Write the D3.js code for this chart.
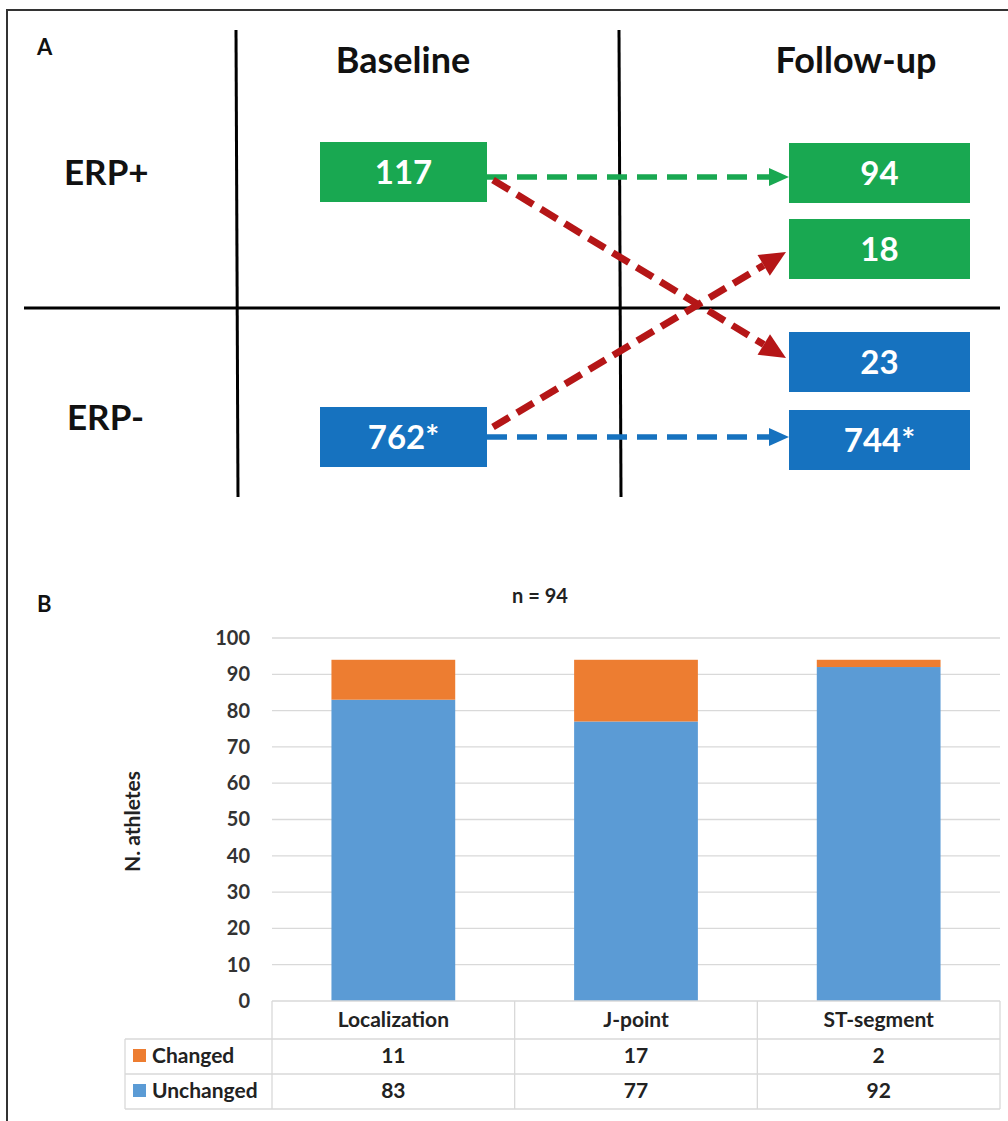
<!DOCTYPE html>
<html>
<head>
<meta charset="utf-8">
<script src="https://cdn.jsdelivr.net/npm/d3@7"></script>
<style>
  html, body { margin: 0; padding: 0; background: #fff; }
  svg { display: block; }
  text { font-family: Lato, "Open Sans", sans-serif; }
</style>
</head>
<body>
<script>
// ---- Panel A: ERP status at baseline and follow-up ----
const rowLabels = ["ERP+", "ERP-"];
const columnTitles = ["Baseline", "Follow-up"];
const baselineCounts = [117, 762];
const baselineLabels = ["117", "762*"];
const followUpCounts = [94, 18, 23, 744];
const followUpLabels = ["94", "18", "23", "744*"];
const followUpStatus = ["ERP+", "ERP+", "ERP-", "ERP-"];
const baselineStatus = ["ERP+", "ERP-"];
// transitions: from baseline box index to follow-up box index
const transitions = [
  { from: 0, to: 0, kind: "same" },
  { from: 0, to: 2, kind: "switch" },
  { from: 1, to: 1, kind: "switch" },
  { from: 1, to: 3, kind: "same" }
];

// ---- Panel B: ERP pattern changes among persistent ERP+ (n = 94) ----
const categories = ["Localization", "J-point", "ST-segment"];
const seriesNames = ["Unchanged", "Changed"];
const unchanged = [83, 77, 92];
const changed = [11, 17, 2];
const yTicks = [0, 10, 20, 30, 40, 50, 60, 70, 80, 90, 100];

const W = 1008, H = 1121;
const svg = d3.select("body").append("svg").attr("width", W).attr("height", H);

const GREEN = "#19a851", BLUE = "#1672bf", RED = "#b51617";
const statusColor = s => s === "ERP+" ? GREEN : BLUE;

// outer frame
svg.append("path")
  .attr("d", `M7,${H + 5} L7,10 L${W + 5},10`)
  .attr("fill", "none").attr("stroke", "#333").attr("stroke-width", 2);

// panel letters
svg.append("text").attr("x", 37).attr("y", 55).text("A")
  .attr("font-family", "'Liberation Sans', Arial, sans-serif")
  .attr("font-size", 22).attr("font-weight", 700).attr("fill", "#111");
svg.append("text").attr("x", 37).attr("y", 612).text("B")
  .attr("font-family", "'Liberation Sans', Arial, sans-serif")
  .attr("font-size", 22).attr("font-weight", 700).attr("fill", "#111");

// ---------- Panel A ----------
const gA = svg.append("g");
// grid of the diagram
gA.append("line").attr("x1", 236).attr("x2", 238).attr("y1", 30).attr("y2", 497)
  .attr("stroke", "#000").attr("stroke-width", 3);
gA.append("line").attr("x1", 619).attr("x2", 621).attr("y1", 30).attr("y2", 497)
  .attr("stroke", "#000").attr("stroke-width", 3);
gA.append("line").attr("x1", 24).attr("x2", 1000).attr("y1", 308).attr("y2", 308)
  .attr("stroke", "#000").attr("stroke-width", 3);

const colX = d3.scaleOrdinal().domain(columnTitles).range([403, 856]);
gA.selectAll("text.col").data(columnTitles).join("text")
  .attr("class", "col")
  .attr("x", d => colX(d)).attr("y", 73)
  .attr("text-anchor", "middle")
  .attr("font-size", 36).attr("font-weight", 700).attr("fill", "#111")
  .text(d => d);

const rowY = d3.scaleOrdinal().domain(rowLabels).range([185, 430]);
gA.selectAll("text.row").data(rowLabels).join("text")
  .attr("class", "row")
  .attr("x", d => d === "ERP+" ? 64 : 67).attr("y", d => rowY(d))
  .attr("font-size", 35).attr("font-weight", 700).attr("fill", "#111")
  .text(d => d);

// boxes
const baseBoxY = d3.scaleOrdinal().domain([0, 1]).range([142, 407]);
const followBoxY = d3.scaleOrdinal().domain([0, 1, 2, 3]).range([143, 219, 332, 410]);
const boxH = 60;
const baseBoxes = baselineCounts.map((v, i) => ({
  value: v, label: baselineLabels[i], status: baselineStatus[i],
  x: 320, y: baseBoxY(i), w: 167, h: boxH
}));
const followBoxes = followUpCounts.map((v, i) => ({
  value: v, label: followUpLabels[i], status: followUpStatus[i],
  x: 789, y: followBoxY(i), w: 181, h: boxH
}));

// arrows
const arrowGroup = gA.append("g");
function arrow(x1, y1, x2, y2, color, width, dash, headLen, headW) {
  const ang = Math.atan2(y2 - y1, x2 - x1);
  const bx = x2 - headLen * Math.cos(ang), by = y2 - headLen * Math.sin(ang);
  arrowGroup.append("line")
    .attr("x1", x1).attr("y1", y1).attr("x2", bx).attr("y2", by)
    .attr("stroke", color).attr("stroke-width", width)
    .attr("stroke-dasharray", dash);
  const px = -Math.sin(ang) * headW / 2, py = Math.cos(ang) * headW / 2;
  arrowGroup.append("path")
    .attr("d", `M${x2},${y2} L${bx + px},${by + py} L${bx - px},${by - py} Z`)
    .attr("fill", color);
}
transitions.forEach(t => {
  const a = baseBoxes[t.from], b = followBoxes[t.to];
  if (t.kind === "same") {
    const y = (t.from === 0 ? 177 : 437);
    arrow(a.x + a.w, y, b.x, y, statusColor(a.status), 5.5, "20,10", 20, 18);
  } else {
    const y1 = t.from === 0 ? a.y + 38 : a.y + 20;
    const y2 = t.from === 0 ? b.y + 26 : b.y + 33;
    arrow(a.x + a.w + 6, y1, b.x - 3, y2, RED, 7, "19,9", 26, 24);
  }
});

function drawBoxes(list) {
  const g = gA.append("g").selectAll("g").data(list).join("g");
  g.append("rect")
    .attr("x", d => d.x).attr("y", d => d.y).attr("width", d => d.w).attr("height", d => d.h)
    .attr("fill", d => statusColor(d.status));
  g.append("text")
    .attr("x", d => d.x + d.w / 2).attr("y", d => d.y + d.h / 2 + 12)
    .attr("text-anchor", "middle")
    .attr("font-size", 33).attr("font-weight", 700).attr("fill", "#fff")
    .text(d => d.label);
}
drawBoxes(baseBoxes);
drawBoxes(followBoxes);

// ---------- Panel B ----------
const plot = { left: 272, right: 1000, top: 638, bottom: 1001 };
const x = d3.scaleBand().domain(categories).range([plot.left, plot.right]).paddingInner(0.49).paddingOuter(0.245);
const xCol = d3.scaleBand().domain(categories).range([plot.left, plot.right]);
const y = d3.scaleLinear().domain([0, 100]).range([plot.bottom, plot.top]);

svg.append("text").attr("x", 540).attr("y", 603).attr("text-anchor", "middle")
  .attr("font-size", 20).attr("font-weight", 700).attr("fill", "#222").text("n = 94");

// gridlines
svg.append("g").selectAll("line").data(yTicks.filter(t => t > 0)).join("line")
  .attr("x1", plot.left).attr("x2", plot.right)
  .attr("y1", d => y(d)).attr("y2", d => y(d))
  .attr("stroke", "#d9d9d9").attr("stroke-width", 1.3);

// y axis labels
const yAxis = d3.axisLeft(y).tickValues(yTicks).tickSize(0).tickPadding(0);
const gy = svg.append("g").attr("transform", "translate(250,0)").call(yAxis);
gy.select(".domain").remove();
gy.selectAll("text").attr("font-size", 20).attr("font-weight", 700)
  .attr("fill", "#333").attr("font-family", "Lato, sans-serif");

svg.append("text")
  .attr("transform", `translate(140,${(plot.top + plot.bottom) / 2 + 2}) rotate(-90)`)
  .attr("text-anchor", "middle").attr("font-size", 21).attr("font-weight", 700)
  .attr("fill", "#222").text("N. athletes");

// stacked bars
const rows = categories.map((c, i) => ({ category: c, Unchanged: unchanged[i], Changed: changed[i] }));
const stack = d3.stack().keys(seriesNames)(rows);
const seriesColor = d3.scaleOrdinal().domain(seriesNames).range(["#5b9bd5", "#ed7d31"]);
svg.append("g").selectAll("g").data(stack).join("g")
  .attr("fill", d => seriesColor(d.key))
  .selectAll("rect").data(d => d).join("rect")
  .attr("x", d => x(d.data.category))
  .attr("width", x.bandwidth())
  .attr("y", d => y(d[1]))
  .attr("height", d => y(d[0]) - y(d[1]));

// data table under the axis
const tbl = svg.append("g");
const tableLeft = 125;
const rowEdges = [1001, 1039, 1074, 1109];
const lineColor = "#d9d9d9";
tbl.append("line").attr("x1", plot.left).attr("x2", plot.right)
  .attr("y1", rowEdges[0]).attr("y2", rowEdges[0]).attr("stroke", lineColor).attr("stroke-width", 1.3);
rowEdges.slice(1).forEach(ry => {
  tbl.append("line").attr("x1", tableLeft).attr("x2", plot.right)
    .attr("y1", ry).attr("y2", ry).attr("stroke", lineColor).attr("stroke-width", 1.3);
});
tbl.append("line").attr("x1", tableLeft).attr("x2", tableLeft)
  .attr("y1", rowEdges[1]).attr("y2", rowEdges[3]).attr("stroke", lineColor).attr("stroke-width", 1.3);
[plot.left, ...categories.map(c => xCol(c) + xCol.bandwidth())].forEach(cx => {
  tbl.append("line").attr("x1", cx).attr("x2", cx)
    .attr("y1", rowEdges[0]).attr("y2", rowEdges[3]).attr("stroke", lineColor).attr("stroke-width", 1.3);
});

tbl.selectAll("text.hdr").data(categories).join("text")
  .attr("class", "hdr")
  .attr("x", d => xCol(d) + xCol.bandwidth() / 2).attr("y", 1027)
  .attr("text-anchor", "middle").attr("font-size", 21).attr("font-weight", 700)
  .attr("fill", "#222").text(d => d);

const tableRows = [
  { name: "Changed", values: changed, y: 1063 },
  { name: "Unchanged", values: unchanged, y: 1098 }
];
tableRows.forEach(r => {
  tbl.append("rect").attr("x", 133).attr("y", r.y - 14).attr("width", 13).attr("height", 13)
    .attr("fill", seriesColor(r.name));
  tbl.append("text").attr("x", 152).attr("y", r.y).attr("font-size", 21).attr("font-weight", 700)
    .attr("fill", "#222").text(r.name);
  tbl.selectAll(null).data(r.values).join("text")
    .attr("x", (d, i) => xCol(categories[i]) + xCol.bandwidth() / 2).attr("y", r.y)
    .attr("text-anchor", "middle").attr("font-size", 21).attr("font-weight", 700)
    .attr("fill", "#222").text(d => d);
});
</script>
</body>
</html>
